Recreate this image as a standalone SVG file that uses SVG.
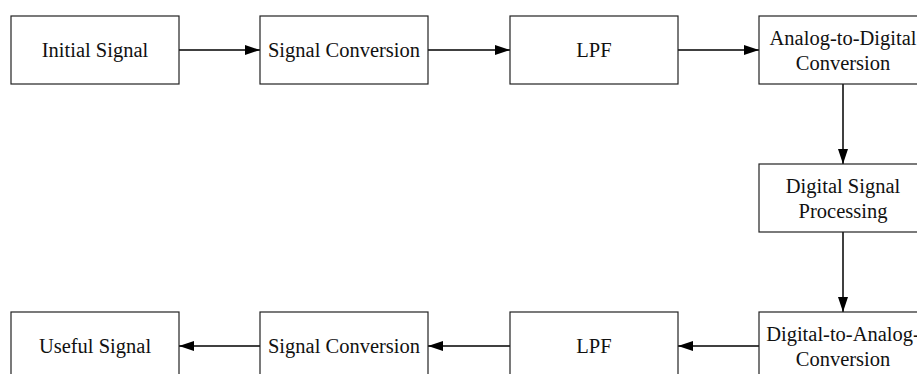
<svg xmlns="http://www.w3.org/2000/svg" width="917" height="374" viewBox="0 0 917 374">
<style>
.box{fill:#fff;stroke:#222;stroke-width:1.2}
.t{font-family:"Liberation Serif","Times New Roman",serif;font-size:20.5px;fill:#111;text-anchor:middle}
.c{stroke:#000;stroke-width:1.5;fill:none;marker-end:url(#ah)}
</style>
<defs>
<marker id="ah" markerWidth="15" markerHeight="10" refX="15" refY="5" orient="auto" markerUnits="userSpaceOnUse">
<path d="M0,0 L15,5 L0,10 Z" fill="#000"/>
</marker>
</defs>
<rect width="917" height="374" fill="#fff"/>
<g id="connectors">
<line class="c" x1="179" y1="50" x2="260" y2="50"/>
<line class="c" x1="428" y1="50" x2="510" y2="50"/>
<line class="c" x1="678" y1="50" x2="759" y2="50"/>
<line class="c" x1="843" y1="84" x2="843" y2="164"/>
<line class="c" x1="843" y1="232" x2="843" y2="312"/>
<line class="c" x1="759" y1="346" x2="678" y2="346"/>
<line class="c" x1="510" y1="346" x2="428" y2="346"/>
<line class="c" x1="260" y1="346" x2="179" y2="346"/>
</g>
<g id="initial-signal"><rect class="box" x="11" y="16" width="168" height="68"/><text class="t" x="95" y="57">Initial Signal</text></g>
<g id="signal-conversion-1"><rect class="box" x="260" y="16" width="168" height="68"/><text class="t" x="344" y="57">Signal Conversion</text></g>
<g id="lpf-1"><rect class="box" x="510" y="16" width="168" height="68"/><text class="t" x="594" y="57">LPF</text></g>
<g id="adc"><rect class="box" x="759" y="16" width="168" height="68"/><text class="t" x="843" y="45">Analog-to-Digital</text><text class="t" x="843" y="70">Conversion</text></g>
<g id="dsp"><rect class="box" x="759" y="164" width="168" height="68"/><text class="t" x="843" y="193">Digital Signal</text><text class="t" x="843" y="218">Processing</text></g>
<g id="dac"><rect class="box" x="759" y="312" width="168" height="68"/><text class="t" x="843" y="341">Digital-to-Analog-</text><text class="t" x="843" y="366">Conversion</text></g>
<g id="lpf-2"><rect class="box" x="510" y="312" width="168" height="68"/><text class="t" x="594" y="353">LPF</text></g>
<g id="signal-conversion-2"><rect class="box" x="260" y="312" width="168" height="68"/><text class="t" x="344" y="353">Signal Conversion</text></g>
<g id="useful-signal"><rect class="box" x="11" y="312" width="168" height="68"/><text class="t" x="95" y="353">Useful Signal</text></g>
</svg>
